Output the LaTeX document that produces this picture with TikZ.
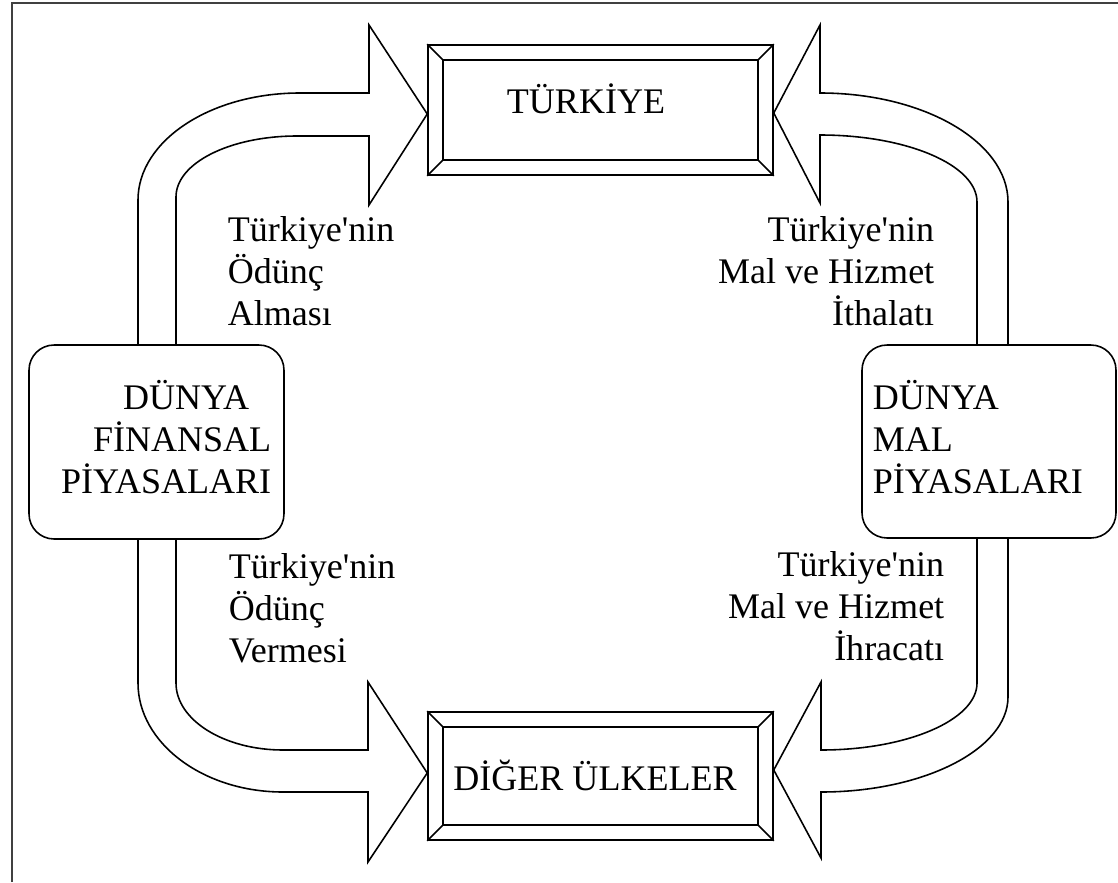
\documentclass[tikz,border=0pt]{standalone}
\usepackage{fontspec}
\setmainfont{Liberation Serif}
\usetikzlibrary{calc}

\begin{document}
\begin{tikzpicture}[x=0.02cm, y=-0.02cm, line width=0.9pt,
    every node/.style={font=\fontsize{20.5}{23.7}\selectfont},
    bevelbox/.style={draw, inner sep=0pt, minimum width=6.9cm, minimum height=2.6cm},
    marketbox/.style={draw, rounded corners=0.5cm, inner sep=0pt, minimum width=5.1cm, minimum height=3.88cm},
    flowtext/.style={inner sep=0pt},
    blockarrow/.style={draw, line join=miter}]

\useasboundingbox (0,0) rectangle (1118,882);
\draw[line width=1.6pt, black!75] (12,882) -- (12,3) -- (1118,3);

\node[bevelbox] (turkiye) at (600.5,110) {};
\node[bevelbox, minimum height=2.56cm] (diger) at (600.5,776) {};
\node[marketbox] (finans) at (156.5,442) {};
\node[marketbox, minimum width=5.08cm, minimum height=3.86cm] (mal) at (989,441.5) {};

\foreach \bx in {turkiye, diger} {
    \draw ($(\bx.north west)+(16,16)$) rectangle ($(\bx.south east)+(-16,-16)$);
    \draw (\bx.north west) -- ++(16,16);
    \draw (\bx.north east) -- ++(-16,16);
    \draw (\bx.south west) -- ++(16,-16);
    \draw (\bx.south east) -- ++(-16,-16);
}

\node[flowtext, anchor=base] (turkiyetxt) at (586,113) {TÜRKİYE};
\node[flowtext, anchor=base] (digertxt) at (595,790) {DİĞER ÜLKELER};
\node[flowtext, anchor=base east, align=right] (finanstxt) at (272,493) {DÜNYA\hspace*{0.44cm}\\FİNANSAL\\PİYASALARI};
\node[flowtext, anchor=base west, align=left] (maltxt) at (872,493) {DÜNYA\\MAL\\PİYASALARI};

\node[flowtext, anchor=base west, align=left] (almasi) at (227,325) {Türkiye\textquotesingle nin\\Ödünç\\Alması};
\node[flowtext, anchor=base west, align=left] (vermesi) at (228,662) {Türkiye\textquotesingle nin\\Ödünç\\Vermesi};
\node[flowtext, anchor=base east, align=right] (ithalat) at (935,325) {Türkiye\textquotesingle nin\\Mal ve Hizmet\\İthalatı};
\node[flowtext, anchor=base east, align=right] (ihracat) at (945,660) {Türkiye\textquotesingle nin\\Mal ve Hizmet\\İhracatı};

\draw[blockarrow] (138,0 |- finans.north) -- (138,200)
    .. controls (138,141) and (210,93) .. (300,93) -- (369,93) -- (369,25)
    -- ($(turkiye.west)+(0,4)$) -- (369,205) -- (369,136) -- (297,136)
    .. controls (230,136) and (176,163) .. (176,197) -- (176,0 |- finans.north);
\draw[blockarrow] (1008,0 |- mal.north) -- (1008,202)
    .. controls (1008,142) and (924,93) .. (820,93) -- (820,25)
    -- ($(turkiye.east)+(0,3)$) -- (820,203) -- (820,135)
    .. controls (907,135) and (977,165) .. (977,202) -- (977,0 |- mal.north);
\draw[blockarrow] (138,0 |- finans.south) -- (138,683)
    .. controls (138,743) and (203,792) .. (283,792) -- (368,792) -- (368,862)
    -- ($(diger.west)+(0,-3)$) -- (368,682) -- (368,750) -- (283,750)
    .. controls (224,750) and (176,720) .. (176,683) -- (176,0 |- finans.south);
\draw[blockarrow] (1008,0 |- mal.south) -- (1008,697)
    .. controls (1008,749) and (924,792) .. (821,792) -- (821,858)
    -- ($(diger.east)+(0,-6)$) -- (821,682) -- (821,750)
    .. controls (907,750) and (977,720) .. (977,683) -- (977,0 |- mal.south);

\end{tikzpicture}
\end{document}
